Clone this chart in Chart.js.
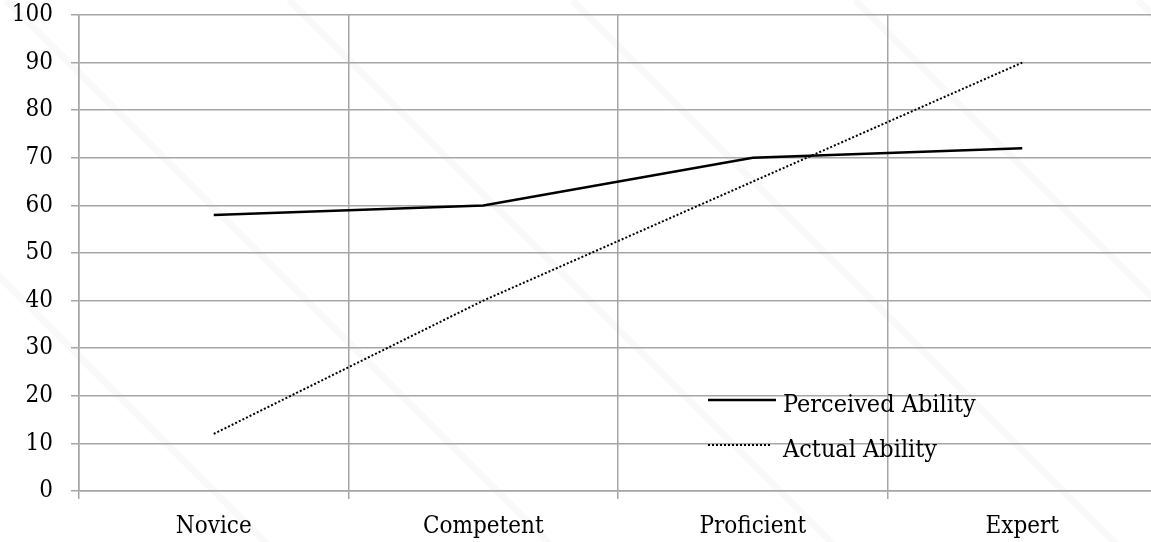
<!DOCTYPE html>
<html>
<head>
<meta charset="utf-8">
<script src="https://cdn.jsdelivr.net/npm/chart.js@4"></script>
<style>
  html, body { margin: 0; padding: 0; background: #fff; overflow: hidden; }
  #wrap { width: 1157px; height: 542px; }
</style>
</head>
<body>
<div id="wrap"><canvas id="myChart"></canvas></div>
<script>
var levels = ["Novice", "Competent", "Proficient", "Expert"];
var perceived = [58, 60, 70, 72];
var actual = [12, 40, 65, 90];
var seriesNames = ["Perceived Ability", "Actual Ability"];

var FONT = "'DejaVu Serif Condensed', 'DejaVu Serif', serif";

// faint diagonal stripes in the background, then legend drawn inside the plot
var decor = {
  id: 'decor',
  beforeDraw: function(chart) {
    var ctx = chart.ctx;
    ctx.save();
    ctx.strokeStyle = 'rgba(0,0,0,0.022)';
    ctx.lineWidth = 7;
    for (var x0 = -700; x0 < 1400; x0 += 283) {
      ctx.beginPath();
      ctx.moveTo(x0 + 140, 0);
      ctx.lineTo(x0 + 140 + 560, 560);
      ctx.stroke();
    }
    ctx.restore();
  },
  afterDraw: function(chart) {
    var ctx = chart.ctx;
    ctx.save();
    ctx.strokeStyle = '#000';
    ctx.lineWidth = 2.5;
    ctx.beginPath();
    ctx.moveTo(708, 400);
    ctx.lineTo(776, 400);
    ctx.stroke();
    ctx.lineWidth = 2;
    ctx.setLineDash([2, 2]);
    ctx.beginPath();
    ctx.moveTo(708, 445);
    ctx.lineTo(772, 445);
    ctx.stroke();
    ctx.setLineDash([]);
    ctx.fillStyle = '#000';
    ctx.font = '25px ' + FONT;
    ctx.textBaseline = 'middle';
    ctx.fillText(seriesNames[0], 783, 405);
    ctx.fillText(seriesNames[1], 783, 450);
    ctx.restore();
  }
};

var ctx = document.getElementById('myChart').getContext('2d');
var chart = new Chart(ctx, {
  type: 'line',
  data: {
    labels: levels,
    datasets: [{
      label: seriesNames[0],
      data: perceived,
      borderColor: '#000',
      borderWidth: 2.5,
      pointRadius: 0,
      tension: 0
    }, {
      label: seriesNames[1],
      data: actual,
      borderColor: '#000',
      borderWidth: 2,
      borderDash: [2, 2],
      pointRadius: 0,
      tension: 0
    }]
  },
  plugins: [decor],
  options: {
    responsive: true,
    maintainAspectRatio: false,
    animation: false,
    layout: { padding: 0 },
    plugins: { legend: { display: false }, tooltip: { enabled: false } },
    scales: {
      x: {
        offset: true,
        grid: { offset: true, color: '#a6a6a6', lineWidth: 1.5, tickLength: 8, drawTicks: true },
        border: { color: '#a6a6a6', width: 1.5 },
        ticks: { color: '#000', font: { family: FONT, size: 24 }, padding: 13, maxRotation: 0 },
        afterFit: function(s) { s.height = 51; }
      },
      y: {
        min: 0, max: 100,
        grid: { color: '#a6a6a6', lineWidth: 1.5, tickLength: 8 },
        border: { color: '#a6a6a6', width: 1.5 },
        ticks: { stepSize: 10, color: '#000', font: { family: FONT, size: 24 }, padding: 18 },
        afterFit: function(s) { s.width = 79; s.paddingTop = 15; s.paddingBottom = 0; }
      }
    }
  }
});
</script>
</body>
</html>
